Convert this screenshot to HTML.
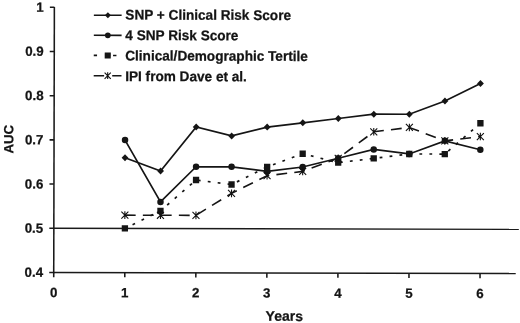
<!DOCTYPE html>
<html><head><meta charset="utf-8"><title>AUC chart</title>
<style>
html,body{margin:0;padding:0;background:#fff;}
body{width:520px;height:323px;overflow:hidden;font-family:"Liberation Sans",sans-serif;}
svg{display:block;filter:grayscale(1);}
text{font-family:"Liberation Sans",sans-serif;font-weight:bold;fill:#141414;stroke:#141414;stroke-width:0.25px;}
</style></head><body>
<svg width="520" height="323" viewBox="0 0 520 323">
<rect width="520" height="323" fill="#fff"/>
<g transform="rotate(0.14 260 161)">

<g stroke="#1a1a1a" stroke-width="1.55" fill="none">
<path d="M54.00,7.51 L54.00,273.65"/>
<path d="M54.00,272.95 L516,272.95"/>
<path d="M49.50,228.76 L519,228.76" stroke-width="1.4"/>
<path d="M49.50,272.95 L54.00,272.95"/>
<path d="M49.50,184.57 L54.00,184.57"/>
<path d="M49.50,140.38 L54.00,140.38"/>
<path d="M49.50,96.19 L54.00,96.19"/>
<path d="M49.50,52.00 L54.00,52.00"/>
<path d="M49.50,7.81 L54.00,7.81"/>
<path d="M54.00,272.95 L54.00,277.65"/>
<path d="M125.05,272.95 L125.05,277.65"/>
<path d="M196.10,272.95 L196.10,277.65"/>
<path d="M267.15,272.95 L267.15,277.65"/>
<path d="M338.20,272.95 L338.20,277.65"/>
<path d="M409.25,272.95 L409.25,277.65"/>
<path d="M480.30,272.95 L480.30,277.65"/>
</g>
<text x="43.4" y="277.3" font-size="13.3" text-anchor="end">0.4</text>
<text x="43.4" y="233.2" font-size="13.3" text-anchor="end">0.5</text>
<text x="43.4" y="189.0" font-size="13.3" text-anchor="end">0.6</text>
<text x="43.4" y="144.8" font-size="13.3" text-anchor="end">0.7</text>
<text x="43.4" y="100.6" font-size="13.3" text-anchor="end">0.8</text>
<text x="43.4" y="56.4" font-size="13.3" text-anchor="end">0.9</text>
<text x="43.4" y="12.2" font-size="13.3" text-anchor="end">1</text>
<text x="54.0" y="297.5" font-size="13.3" text-anchor="middle">0</text>
<text x="125.0" y="297.5" font-size="13.3" text-anchor="middle">1</text>
<text x="196.1" y="297.5" font-size="13.3" text-anchor="middle">2</text>
<text x="267.1" y="297.5" font-size="13.3" text-anchor="middle">3</text>
<text x="338.2" y="297.5" font-size="13.3" text-anchor="middle">4</text>
<text x="409.2" y="297.5" font-size="13.3" text-anchor="middle">5</text>
<text x="480.3" y="297.5" font-size="13.3" text-anchor="middle">6</text>
<text x="284.7" y="320.8" font-size="14" text-anchor="middle">Years</text>
<text transform="translate(13.3,139.8) rotate(-90)" font-size="13.3" text-anchor="middle">AUC</text>
<polyline points="125.0,158.1 160.6,171.3 196.1,127.1 231.6,136.0 267.1,127.1 302.7,122.7 338.2,118.3 373.7,113.9 409.2,113.9 444.8,100.6 480.3,82.9" fill="none" stroke="#151515" stroke-width="1.7"/>
<path d="M125.0,154.6 l3.40,3.50 l-3.40,3.50 l-3.40,-3.50 z" fill="#151515"/>
<path d="M160.6,167.8 l3.40,3.50 l-3.40,3.50 l-3.40,-3.50 z" fill="#151515"/>
<path d="M196.1,123.6 l3.40,3.50 l-3.40,3.50 l-3.40,-3.50 z" fill="#151515"/>
<path d="M231.6,132.5 l3.40,3.50 l-3.40,3.50 l-3.40,-3.50 z" fill="#151515"/>
<path d="M267.1,123.6 l3.40,3.50 l-3.40,3.50 l-3.40,-3.50 z" fill="#151515"/>
<path d="M302.7,119.2 l3.40,3.50 l-3.40,3.50 l-3.40,-3.50 z" fill="#151515"/>
<path d="M338.2,114.8 l3.40,3.50 l-3.40,3.50 l-3.40,-3.50 z" fill="#151515"/>
<path d="M373.7,110.4 l3.40,3.50 l-3.40,3.50 l-3.40,-3.50 z" fill="#151515"/>
<path d="M409.2,110.4 l3.40,3.50 l-3.40,3.50 l-3.40,-3.50 z" fill="#151515"/>
<path d="M444.8,97.1 l3.40,3.50 l-3.40,3.50 l-3.40,-3.50 z" fill="#151515"/>
<path d="M480.3,79.4 l3.40,3.50 l-3.40,3.50 l-3.40,-3.50 z" fill="#151515"/>
<polyline points="125.0,140.4 160.6,202.2 196.1,166.9 231.6,166.9 267.1,171.3 302.7,166.9 338.2,158.1 373.7,149.2 409.2,153.6 444.8,140.4 480.3,149.2" fill="none" stroke="#151515" stroke-width="1.7"/>
<circle cx="125.0" cy="140.4" r="3.25" fill="#151515"/>
<circle cx="160.6" cy="202.2" r="3.25" fill="#151515"/>
<circle cx="196.1" cy="166.9" r="3.25" fill="#151515"/>
<circle cx="231.6" cy="166.9" r="3.25" fill="#151515"/>
<circle cx="267.1" cy="171.3" r="3.25" fill="#151515"/>
<circle cx="302.7" cy="166.9" r="3.25" fill="#151515"/>
<circle cx="338.2" cy="158.1" r="3.25" fill="#151515"/>
<circle cx="373.7" cy="149.2" r="3.25" fill="#151515"/>
<circle cx="409.2" cy="153.6" r="3.25" fill="#151515"/>
<circle cx="444.8" cy="140.4" r="3.25" fill="#151515"/>
<circle cx="480.3" cy="149.2" r="3.25" fill="#151515"/>
<polyline points="125.0,228.8 160.6,211.1 196.1,180.2 231.6,184.6 267.1,166.9 302.7,153.6 338.2,162.5 373.7,158.1 409.2,153.6 444.8,153.6 480.3,122.7" fill="none" stroke="#151515" stroke-width="1.7" stroke-dasharray="2.8,7.2" stroke-dashoffset="1.4"/>
<rect x="121.90" y="225.61" width="6.30" height="6.30" fill="#151515"/>
<rect x="157.42" y="207.93" width="6.30" height="6.30" fill="#151515"/>
<rect x="192.95" y="177.00" width="6.30" height="6.30" fill="#151515"/>
<rect x="228.47" y="181.42" width="6.30" height="6.30" fill="#151515"/>
<rect x="264.00" y="163.74" width="6.30" height="6.30" fill="#151515"/>
<rect x="299.52" y="150.49" width="6.30" height="6.30" fill="#151515"/>
<rect x="335.05" y="159.32" width="6.30" height="6.30" fill="#151515"/>
<rect x="370.57" y="154.91" width="6.30" height="6.30" fill="#151515"/>
<rect x="406.10" y="150.49" width="6.30" height="6.30" fill="#151515"/>
<rect x="441.62" y="150.49" width="6.30" height="6.30" fill="#151515"/>
<rect x="477.15" y="119.55" width="6.30" height="6.30" fill="#151515"/>
<polyline points="125.0,215.5 160.6,215.5 196.1,215.5 231.6,193.4 267.1,175.7 302.7,171.3 338.2,158.1 373.7,131.5 409.2,127.1 444.8,140.4 480.3,136.0" fill="none" stroke="#151515" stroke-width="1.6" stroke-dasharray="10.8,7.2" stroke-dashoffset="0"/>
<path d="M121.5,212.0 l7.00,7.00 m-7.00,0 l7.00,-7.00 m-3.50,-0.30 v7.60" stroke="#111" stroke-width="1.1" fill="none"/>
<path d="M157.1,212.0 l7.00,7.00 m-7.00,0 l7.00,-7.00 m-3.50,-0.30 v7.60" stroke="#111" stroke-width="1.1" fill="none"/>
<path d="M192.6,212.0 l7.00,7.00 m-7.00,0 l7.00,-7.00 m-3.50,-0.30 v7.60" stroke="#111" stroke-width="1.1" fill="none"/>
<path d="M228.1,189.9 l7.00,7.00 m-7.00,0 l7.00,-7.00 m-3.50,-0.30 v7.60" stroke="#111" stroke-width="1.1" fill="none"/>
<path d="M263.6,172.2 l7.00,7.00 m-7.00,0 l7.00,-7.00 m-3.50,-0.30 v7.60" stroke="#111" stroke-width="1.1" fill="none"/>
<path d="M299.2,167.8 l7.00,7.00 m-7.00,0 l7.00,-7.00 m-3.50,-0.30 v7.60" stroke="#111" stroke-width="1.1" fill="none"/>
<path d="M334.7,154.6 l7.00,7.00 m-7.00,0 l7.00,-7.00 m-3.50,-0.30 v7.60" stroke="#111" stroke-width="1.1" fill="none"/>
<path d="M370.2,128.0 l7.00,7.00 m-7.00,0 l7.00,-7.00 m-3.50,-0.30 v7.60" stroke="#111" stroke-width="1.1" fill="none"/>
<path d="M405.8,123.6 l7.00,7.00 m-7.00,0 l7.00,-7.00 m-3.50,-0.30 v7.60" stroke="#111" stroke-width="1.1" fill="none"/>
<path d="M441.3,136.9 l7.00,7.00 m-7.00,0 l7.00,-7.00 m-3.50,-0.30 v7.60" stroke="#111" stroke-width="1.1" fill="none"/>
<path d="M476.8,132.5 l7.00,7.00 m-7.00,0 l7.00,-7.00 m-3.50,-0.30 v7.60" stroke="#111" stroke-width="1.1" fill="none"/>
<path d="M93.5,15.6 L121.3,15.6" stroke="#151515" stroke-width="1.6"/>
<path d="M107.5,12.5 l2.99,3.08 l-2.99,3.08 l-2.99,-3.08 z" fill="#151515"/>
<text transform="translate(125,19.9) scale(0.972,1)" font-size="14">SNP + Clinical Risk Score</text>
<path d="M93.5,35.7 L121.3,35.7" stroke="#151515" stroke-width="1.6"/>
<circle cx="107.5" cy="35.7" r="2.86" fill="#151515"/>
<text transform="translate(125,40.3) scale(0.972,1)" font-size="14">4 SNP Risk Score</text>
<path d="M93.5,55.8 h3.3 M112.8,55.8 h3.4" stroke="#151515" stroke-width="1.6"/>
<rect x="104.46" y="52.76" width="6.07" height="6.07" fill="#151515"/>
<text transform="translate(125,60.8) scale(0.972,1)" font-size="14">Clinical/Demographic Tertile</text>
<path d="M93.5,76.1 L121.3,76.1" stroke="#151515" stroke-width="1.6" stroke-dasharray="10.4,8.1"/>
<path d="M104.4,73.0 l6.16,6.16 m-6.16,0 l6.16,-6.16 m-3.08,-0.26 v6.69" stroke="#111" stroke-width="1.1" fill="none"/>
<text transform="translate(125,81.3) scale(0.972,1)" font-size="14">IPI from Dave et al.</text>
</g>
</svg></body></html>
